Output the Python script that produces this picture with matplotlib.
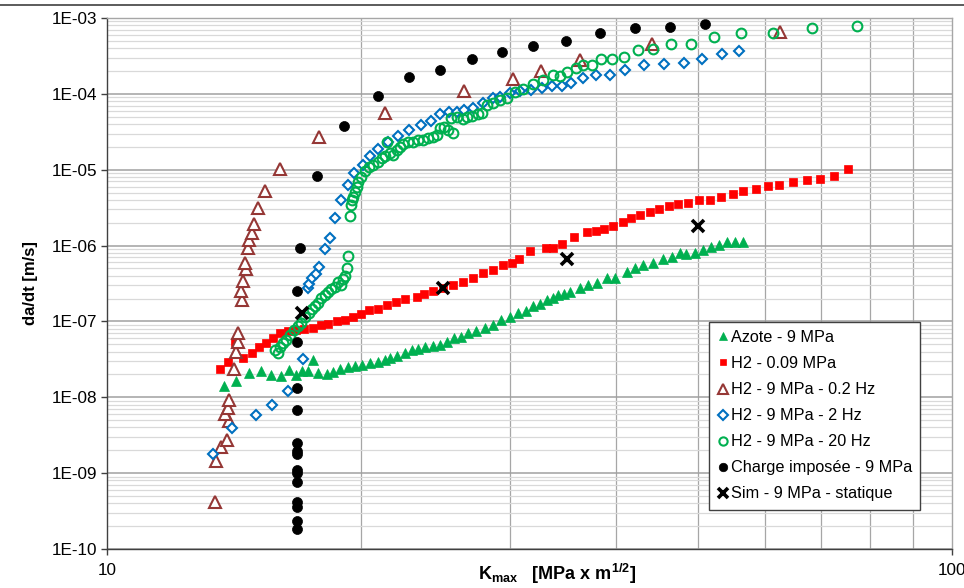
import numpy as np
import matplotlib
matplotlib.use("Agg")
import matplotlib.pyplot as plt
from matplotlib.ticker import FixedLocator, FuncFormatter, NullFormatter
from matplotlib.lines import Line2D

plt.rcParams["font.family"] = ["Liberation Sans", "DejaVu Sans"]
plt.rcParams["mathtext.fontset"] = "custom"
plt.rcParams["mathtext.rm"] = "Liberation Sans"
plt.rcParams["mathtext.bf"] = "Liberation Sans:bold"
plt.rcParams["mathtext.it"] = "Liberation Sans:italic"

# Azote - 9 MPa
azote_k = [13.77, 14.22, 14.74, 15.20, 15.64, 16.07, 16.42, 16.74, 17.00, 17.30,
           17.52, 17.79, 18.20, 18.53, 18.87, 19.30, 19.66, 20.06, 20.48, 20.93,
           21.33, 21.63, 22.01, 22.53, 22.94, 23.33, 23.78, 24.33, 24.79, 25.23,
           25.74, 26.24, 26.74, 27.37, 28.02, 28.63, 29.26, 29.99, 30.64, 31.32,
           31.95, 32.54, 33.14, 33.72, 34.21, 34.74, 35.31, 36.29, 37.12, 37.98,
           39.03, 39.92, 41.21, 42.16, 43.12, 44.31, 45.53, 46.59, 47.65, 48.44,
           49.66, 50.79, 51.82, 53.01, 54.13, 55.37, 56.62]
azote_v = [1.39e-8, 1.66e-8, 2.08e-8, 2.23e-8, 1.98e-8, 1.88e-8, 2.27e-8, 1.98e-8, 2.19e-8, 2.20e-8,
           3.12e-8, 2.08e-8, 2.04e-8, 2.17e-8, 2.39e-8, 2.52e-8, 2.56e-8, 2.68e-8, 2.82e-8, 2.96e-8,
           3.12e-8, 3.27e-8, 3.47e-8, 3.82e-8, 4.23e-8, 4.29e-8, 4.56e-8, 4.77e-8, 4.92e-8, 5.43e-8,
           6.03e-8, 6.32e-8, 6.97e-8, 7.41e-8, 8.11e-8, 9.02e-8, 1.03e-7, 1.13e-7, 1.29e-7, 1.38e-7,
           1.61e-7, 1.71e-7, 1.93e-7, 2.02e-7, 2.24e-7, 2.31e-7, 2.48e-7, 2.75e-7, 3.03e-7, 3.20e-7,
           3.72e-7, 3.79e-7, 4.54e-7, 5.04e-7, 5.57e-7, 5.86e-7, 6.68e-7, 7.03e-7, 7.94e-7, 7.66e-7,
           8.02e-7, 8.78e-7, 9.70e-7, 1.02e-6, 1.10e-6, 1.10e-6, 1.10e-6]

# H2 - 0.09 MPa
h2low_k = [13.62, 13.89, 14.19, 14.50, 14.83, 15.12, 15.42, 15.74, 16.02, 16.37,
           16.74, 17.11, 17.51, 17.90, 18.27, 18.69, 19.11, 19.55, 19.98, 20.43,
           20.91, 21.45, 21.98, 22.51, 23.26, 23.73, 24.33, 24.98, 25.65, 26.36,
           27.10, 27.85, 28.66, 29.44, 30.12, 30.75, 31.66, 33.05, 33.74, 34.53,
           35.73, 36.96, 37.88, 38.78, 39.74, 40.77, 41.73, 42.77, 43.92, 45.05,
           46.25, 47.44, 48.75, 50.20, 51.72, 53.25, 55.03, 56.62, 58.61, 60.52,
           62.46, 64.89, 67.42, 69.79, 72.57, 75.27]
h2low_v = [2.37e-8, 2.94e-8, 5.31e-8, 3.28e-8, 3.89e-8, 4.67e-8, 5.22e-8, 6.03e-8, 7.14e-8, 7.41e-8,
           7.75e-8, 7.92e-8, 8.17e-8, 8.89e-8, 9.38e-8, 1.01e-7, 1.05e-7, 1.16e-7, 1.24e-7, 1.42e-7,
           1.45e-7, 1.63e-7, 1.79e-7, 1.97e-7, 2.13e-7, 2.33e-7, 2.53e-7, 2.77e-7, 3.03e-7, 3.26e-7,
           3.72e-7, 4.33e-7, 4.79e-7, 5.52e-7, 5.97e-7, 6.75e-7, 8.60e-7, 9.42e-7, 9.42e-7, 1.04e-6,
           1.29e-6, 1.50e-6, 1.58e-6, 1.66e-6, 1.82e-6, 2.05e-6, 2.30e-6, 2.54e-6, 2.81e-6, 3.05e-6,
           3.37e-6, 3.54e-6, 3.62e-6, 3.97e-6, 4.00e-6, 4.43e-6, 4.80e-6, 5.21e-6, 5.64e-6, 6.12e-6,
           6.37e-6, 6.97e-6, 7.41e-6, 7.57e-6, 8.28e-6, 1.02e-5]

# H2 - 9 MPa - 0.2 Hz
h2f02_k = [13.42, 13.46, 13.64, 13.87, 13.96, 13.79, 13.92, 13.96, 14.12, 14.21,
           14.29, 14.28, 14.45, 14.41, 14.50, 14.60, 14.57, 14.68, 14.74, 14.83,
           14.94, 15.11, 15.40, 16.04, 17.81, 21.33, 26.43, 30.26, 32.61, 36.29,
           44.12, 62.5]
h2f02_v = [4.14e-10, 1.46e-9, 2.23e-9, 2.75e-9, 4.80e-9, 6.05e-9, 7.27e-9, 9.27e-9, 2.37e-8, 4.01e-8,
           5.43e-8, 7.08e-8, 1.93e-7, 2.53e-7, 3.43e-7, 4.89e-7, 5.92e-7, 9.33e-7, 1.17e-6, 1.48e-6,
           1.93e-6, 3.09e-6, 5.26e-6, 1.02e-5, 2.73e-5, 5.55e-5, 1.10e-4, 1.56e-4, 2.01e-4, 2.80e-4,
           4.50e-4, 6.54e-4]

# H2 - 9 MPa - 2 Hz
h2f2_k = [13.35, 14.05, 15.01, 15.69, 16.37, 17.06, 17.31, 17.36, 17.50, 17.66,
          17.82, 18.11, 18.36, 18.61, 18.92, 19.26, 19.61, 20.09, 20.50, 20.93,
          21.51, 22.10, 22.78, 23.53, 24.18, 24.79, 25.40, 25.94, 26.47, 27.12,
          27.86, 28.66, 29.18, 29.99, 30.82, 31.76, 32.70, 33.60, 34.53, 35.41,
          36.54, 37.91, 39.39, 41.02, 43.21, 45.64, 48.17, 50.56, 53.44, 55.93]
h2f2_v = [1.80e-9, 3.96e-9, 5.88e-9, 7.96e-9, 1.21e-8, 3.21e-8, 2.75e-7, 3.10e-7, 3.72e-7, 4.24e-7,
          5.19e-7, 8.97e-7, 1.25e-6, 2.28e-6, 4.00e-6, 6.25e-6, 8.94e-6, 1.16e-5, 1.52e-5, 1.85e-5,
          2.29e-5, 2.76e-5, 3.34e-5, 3.86e-5, 4.43e-5, 5.47e-5, 5.69e-5, 5.78e-5, 6.14e-5, 6.52e-5,
          7.66e-5, 8.75e-5, 9.19e-5, 1.02e-4, 1.10e-4, 1.13e-4, 1.21e-4, 1.27e-4, 1.27e-4, 1.39e-4,
          1.62e-4, 1.76e-4, 1.79e-4, 2.07e-4, 2.43e-4, 2.50e-4, 2.55e-4, 2.84e-4, 3.39e-4, 3.64e-4]

# H2 - 9 MPa - 20 Hz
h2f20_k = [15.81, 15.94, 16.02, 16.15, 16.28, 16.47, 16.64, 16.83, 16.97, 17.15,
           17.34, 17.48, 17.63, 17.77, 17.92, 18.11, 18.26, 18.41, 18.61, 18.77,
           18.92, 19.03, 19.13, 19.23, 19.29, 19.39, 19.45, 19.50, 19.55, 19.66,
           19.76, 19.82, 19.98, 20.20, 20.42, 20.65, 20.93, 21.16, 21.33, 21.45,
           21.63, 21.80, 22.04, 22.22, 22.40, 22.71, 23.02, 23.33, 23.66, 23.99,
           24.31, 24.58, 24.79, 25.05, 25.33, 25.67, 25.53, 25.96, 26.38, 26.67,
           27.04, 27.48, 27.78, 28.17, 28.63, 29.18, 29.74, 30.39, 31.07, 31.92,
           32.81, 33.72, 34.37, 35.04, 35.90, 36.59, 37.50, 38.43, 39.60, 40.91,
           42.50, 44.28, 46.51, 49.10, 52.29, 56.27, 61.40, 68.30, 77.22]
h2f20_v = [4.23e-8, 3.86e-8, 4.63e-8, 5.22e-8, 5.73e-8, 6.65e-8, 7.75e-8, 8.75e-8, 9.59e-8, 1.15e-7,
           1.30e-7, 1.47e-7, 1.61e-7, 1.76e-7, 2.05e-7, 2.24e-7, 2.45e-7, 2.69e-7, 2.86e-7, 3.33e-7,
           3.03e-7, 3.64e-7, 3.99e-7, 5.08e-7, 7.31e-7, 2.46e-6, 3.44e-6, 4.00e-6, 4.39e-6, 5.10e-6,
           5.94e-6, 6.90e-6, 8.04e-6, 9.64e-6, 1.09e-5, 1.16e-5, 1.27e-5, 1.43e-5, 1.52e-5, 2.32e-5,
           1.66e-5, 1.57e-5, 1.82e-5, 2.00e-5, 2.19e-5, 2.32e-5, 2.34e-5, 2.43e-5, 2.47e-5, 2.58e-5,
           2.70e-5, 2.87e-5, 3.52e-5, 3.70e-5, 3.34e-5, 3.05e-5, 4.81e-5, 4.97e-5, 4.67e-5, 4.97e-5,
           5.04e-5, 5.43e-5, 5.60e-5, 7.14e-5, 7.59e-5, 8.31e-5, 8.83e-5, 1.06e-4, 1.16e-4, 1.35e-4,
           1.52e-4, 1.75e-4, 1.72e-4, 1.96e-4, 2.17e-4, 2.38e-4, 2.38e-4, 2.86e-4, 2.87e-4, 3.02e-4,
           3.75e-4, 3.87e-4, 4.52e-4, 4.52e-4, 5.54e-4, 6.34e-4, 6.34e-4, 7.38e-4, 7.85e-4]

# Charge imposée - 9 MPa
charge_k = [16.8, 16.8, 16.8, 16.8, 16.8, 16.8, 16.8, 16.8, 16.8, 16.8,
            16.8, 16.8, 16.8, 16.8, 16.9, 17.7, 19.1, 20.9, 22.8, 24.8,
            27.0, 29.3, 31.9, 34.9, 38.3, 42.2, 46.4, 51.0]
charge_v = [1.85e-10, 2.36e-10, 3.6e-10, 4.2e-10, 7.7e-10, 1.01e-9, 1.11e-9, 1.8e-9, 1.97e-9, 2.52e-9,
            6.85e-9, 1.33e-8, 5.38e-8, 2.53e-7, 9.33e-7, 8.28e-6, 3.78e-5, 9.37e-5, 1.67e-4, 2.07e-4,
            2.88e-4, 3.57e-4, 4.28e-4, 4.98e-4, 6.34e-4, 7.38e-4, 7.6e-4, 8.34e-4]

# Sim - 9 MPa - statique
sim_k = [17.0, 25.0, 35.0, 50.0]
sim_v = [1.31e-7, 2.75e-7, 6.62e-7, 1.82e-6]

series = [
    ("Azote - 9 MPa", azote_k, azote_v,
     dict(marker="^", ms=7, mfc="#00B050", mec="#00B050", mew=0.5)),
    ("H2 - 0.09 MPa", h2low_k, h2low_v,
     dict(marker="s", ms=5.8, mfc="#FF0000", mec="#FF0000", mew=0.5)),
    ("H2 - 9 MPa - 0.2 Hz", h2f02_k, h2f02_v,
     dict(marker="^", ms=8, mfc="white", mec="#953735", mew=1.5)),
    ("H2 - 9 MPa - 2 Hz", h2f2_k, h2f2_v,
     dict(marker="D", ms=5.4, mfc="white", mec="#0070C0", mew=1.5)),
    ("H2 - 9 MPa - 20 Hz", h2f20_k, h2f20_v,
     dict(marker="o", ms=7, mfc="none", mec="#00B050", mew=1.5)),
    ("Charge imposée - 9 MPa", charge_k, charge_v,
     dict(marker="o", ms=7.2, mfc="black", mec="black", mew=0.5)),
    ("Sim - 9 MPa - statique", sim_k, sim_v,
     dict(marker="x", ms=9, mfc="black", mec="black", mew=2.6)),
]

W, H = 964, 588
fig = plt.figure(figsize=(W / 100, H / 100), dpi=100, facecolor="white")
ax = fig.add_axes([107 / W, 1 - 549 / H, 845 / W, 531 / H])

handles = []
for label, k, v, style in series:
    h, = ax.plot(k, v, linestyle="none", label=label, **style)
    handles.append(h)

ax.set_xscale("log")
ax.set_yscale("log")
ax.set_xlim(10, 100)
ax.set_ylim(1e-10, 1e-3)

ax.xaxis.set_major_locator(FixedLocator([10, 100]))
ax.xaxis.set_major_formatter(FuncFormatter(lambda v, _: f"{v:.0f}"))
ax.xaxis.set_minor_locator(FixedLocator([20, 30, 40, 50, 60, 70, 80, 90]))
ax.xaxis.set_minor_formatter(NullFormatter())

dec = [10.0 ** e for e in range(-10, -2)]
ax.yaxis.set_major_locator(FixedLocator(dec))
ax.yaxis.set_major_formatter(FuncFormatter(lambda v, _: f"1E-{int(round(-np.log10(v))):02d}"))
ax.yaxis.set_minor_locator(FixedLocator([m * d for d in dec[:-1] for m in range(2, 10)]))
ax.yaxis.set_minor_formatter(NullFormatter())

ax.grid(which="major", axis="y", color="#a0a0a0", lw=1.1, zorder=0)
ax.grid(which="minor", axis="y", color="#d9d9d9", lw=0.9, zorder=0)
ax.grid(which="minor", axis="x", color="#a6a6a6", lw=0.9, zorder=0)
ax.set_axisbelow(True)

ax.tick_params(which="major", direction="out", length=4, width=1, color="#404040",
               labelsize=12.3, pad=3)
ax.tick_params(which="minor", length=0)
ax.tick_params(axis="x", which="major", pad=6)

for side in ("left", "bottom"):
    ax.spines[side].set_color("#404040")
    ax.spines[side].set_linewidth(1.0)
for side in ("top", "right"):
    ax.spines[side].set_color("#a6a6a6")
    ax.spines[side].set_linewidth(1.0)

fig.text(30 / W, 1 - 283 / H, "da/dt [m/s]", rotation=90, ha="center", va="center",
         fontsize=12, fontweight="bold")
fig.text(557 / W, 1 - 574 / H,
         r"$\mathbf{K}_{\mathbf{max}}$   $\mathbf{[MPa\ x\ m^{1/2}]}$",
         ha="center", va="center", fontsize=13)

leg = ax.legend(handles=handles, loc="upper left",
                bbox_to_anchor=(709 / W, 1 - 322 / H), bbox_transform=fig.transFigure,
                fontsize=11.7, frameon=True, fancybox=False, framealpha=1,
                edgecolor="#404040", handlelength=0.7, handletextpad=0.15,
                labelspacing=0.68, borderpad=0.5, borderaxespad=0, markerscale=0.85)
leg.get_frame().set_linewidth(1.0)

fig.add_artist(Line2D([0, 1], [1 - 5 / H, 1 - 5 / H], transform=fig.transFigure,
                      color="#404040", lw=1.2))

fig.savefig("out.png", dpi=100, facecolor="white")
